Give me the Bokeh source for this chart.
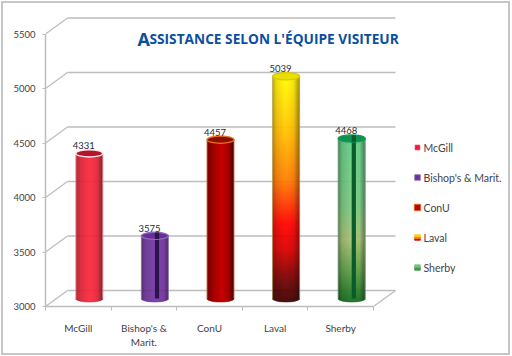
from bokeh.plotting import figure
from bokeh.models import Range1d, FixedTicker, LinearAxis
from bokeh.core.properties import value
from bokeh.embed import file_html
from bokeh.resources import INLINE
import numpy as np

categories = ["McGill", "Bishop's & Marit.", "ConU", "Laval", "Sherby"]
axis_labels = ["McGill", "Bishop's &\nMarit.", "ConU", "Laval", "Sherby"]
attendance = [4331, 3575, 4457, 5039, 4468]
y_ticks = [3000, 3500, 4000, 4500, 5000, 5500]
title_initial = "A"
title_rest = "SSISTANCE SELON L'ÉQUIPE VISITEUR"

FONT = "Lato"
TXT = "#3f3f4a"
GRID = "#bdbdbd"
CAT_W = 65.6                # px per category
PX_X = 1 / CAT_W            # data units per px
PX_Y = 2500 / 272.5
DX, DY = 22 * PX_X, 16 * PX_Y    # chart depth
R_X, R_Y = 13.5 * PX_X, 3.6 * PX_Y

W, H = 510, 354
OFF = 3                     # host margin + CSS border
LEFT, TOP, RIGHT, BOTTOM = 45, 9, 505, 306   # frame edges on the page
p = figure(width=W, height=H, output_backend="svg", toolbar_location=None,
           x_range=Range1d(0, (RIGHT - LEFT) * PX_X),
           y_range=Range1d(3000, 3000 + (BOTTOM - TOP) * PX_Y),
           frame_width=RIGHT - LEFT, frame_height=BOTTOM - TOP,
           min_border_left=LEFT - OFF, min_border_right=3,
           min_border_top=TOP - OFF, min_border_bottom=47,
           x_axis_type=None, y_axis_type=None,
           margin=(1, 0, 0, 1), outline_line_color=None,
           background_fill_color="white", border_fill_color="white",
           styles={"border": "2px solid #c6c6c6", "box-sizing": "border-box"})
p.grid.visible = False

# axes
yaxis = LinearAxis(ticker=FixedTicker(ticks=y_ticks), bounds=(3000, 5500))
yaxis.axis_line_color = GRID
yaxis.axis_line_width = 1.5
yaxis.major_tick_line_color = GRID
yaxis.major_tick_in = 0
yaxis.major_tick_out = 3
yaxis.minor_tick_line_color = None
yaxis.major_label_standoff = 7
yaxis.major_label_text_font = FONT
yaxis.major_label_text_font_size = "9.5px"
yaxis.major_label_text_color = TXT
p.add_layout(yaxis, "left")

centers = [i + 0.5 for i in range(len(categories))]
xaxis = LinearAxis(ticker=FixedTicker(ticks=centers,
                                      minor_ticks=list(range(len(categories) + 1))),
                   bounds=(0, len(categories)))
xaxis.major_label_overrides = {c: l for c, l in zip(centers, axis_labels)}
xaxis.axis_line_color = GRID
xaxis.axis_line_width = 1.5
xaxis.major_tick_line_color = None
xaxis.major_tick_in = 0
xaxis.major_tick_out = 0
xaxis.minor_tick_line_color = GRID
xaxis.minor_tick_in = 0
xaxis.minor_tick_out = 4
xaxis.major_label_standoff = 11
xaxis.major_label_text_font = FONT
xaxis.major_label_text_font_size = "10px"
xaxis.major_label_text_color = TXT
p.add_layout(xaxis, "below")

# 3-D walls
n = len(categories)
p.segment(x0=[DX] * len(y_ticks), y0=[v + DY for v in y_ticks],
          x1=[n + DX] * len(y_ticks), y1=[v + DY for v in y_ticks],
          line_color=GRID, line_width=1.5)
p.segment(x0=[0] * len(y_ticks), y0=y_ticks, x1=[DX] * len(y_ticks),
          y1=[v + DY for v in y_ticks], line_color=GRID, line_width=1.2)
p.segment(x0=[n], y0=[3000], x1=[n + DX], y1=[3000 + DY], line_color=GRID, line_width=1.2)


def lerp(stops, t):
    xs = [s[0] for s in stops]
    return [float(np.interp(t, xs, [s[1][k] for s in stops])) for k in range(3)]


def hexc(c):
    return "#%02x%02x%02x" % tuple(int(max(0, min(255, v))) for v in c)


# (height in px above base -> colour); horizontal shade factor by u
styles_ = [
    dict(v=[(0, (240, 40, 60)), (1, (240, 40, 60))],
         h=[(-1, .72), (-.6, .92), (.1, 1.06), (.6, .95), (1, .55)],
         top="#b5142c", rim="#fbe6e8", edge="#f7c9cf", slot=None),
    dict(v=[(0, (112, 50, 160)), (1, (112, 50, 160))],
         h=[(-1, .6), (-.7, .9), (.1, 1.05), (.7, .95), (1, .55)],
         top="#6a2c9c", rim="#8f6db5", edge="#a58cc4", slot="#2c1548"),
    dict(v=[(0, (192, 0, 0)), (1, (192, 0, 0))],
         h=[(-1, .6), (-.5, .85), (.1, 1.05), (.6, .85), (1, .4)],
         top="#8e0c00", rim="#e8701a", edge="#f0a060", slot=None),
    dict(v=[(0, (55, 0, 0)), (.1, (105, 5, 5)), (.25, (215, 0, 0)), (.36, (255, 5, 0)),
            (.55, (255, 125, 0)), (.78, (255, 195, 0)), (1, (255, 245, 0))],
         h=[(-1, .68), (-.7, .92), (0, 1.05), (.6, .95), (1, .6)],
         top="#e9e000", rim="#d8c800", edge="#b8a860", slot=None),
    dict(v=[(0, (15, 105, 30)), (.2, (90, 155, 70)), (.4, (165, 192, 115)),
            (.6, (122, 200, 130)), (1, (100, 205, 135))],
         h=[(-1, .6), (-.7, .9), (-.1, 1.02), (.6, 1.0), (1, .6)],
         top="#12904f", rim="#0c9a58", edge="#7fae88", slot="#0a5a2c"),
]

for i, (val, st) in enumerate(zip(attendance, styles_)):
    cx = i + 0.5 + DX / 2
    base = 3000 + DY / 2
    top = val + DY / 2
    us = np.linspace(-1, 1, 28)
    span = top - base
    vert_steps = 1 if st["v"][0][1] == st["v"][-1][1] else int(span / PX_Y / 1.5)
    l, r, b, t, col = [], [], [], [], []
    for u0, u1 in zip(us[:-1], us[1:]):
        um = (u0 + u1) / 2
        fac = float(np.interp(um, [s[0] for s in st["h"]], [s[1] for s in st["h"]]))
        bot = base - R_Y * np.sqrt(1 - um ** 2)
        edges = np.linspace(bot, top, vert_steps + 1)
        for e0, e1 in zip(edges[:-1], edges[1:]):
            frac = ((e0 + e1) / 2 - 3000) / (span + DY / 2)
            c = lerp(st["v"], frac)
            l.append(cx + u0 * R_X)
            r.append(cx + u1 * R_X)
            b.append(e0)
            t.append(e1)
            col.append(hexc([v * fac for v in c]))
    p.quad(left=l, right=r, bottom=b, top=t, fill_color=col, line_color=col, line_width=0.4)
    if st["slot"]:
        p.quad(left=[cx], right=[cx + 4.2 * PX_X], bottom=[base], top=[top],
               fill_color=st["slot"], line_color=None)
    # side edges and top
    p.segment(x0=[cx - R_X, cx + R_X], y0=[base, base], x1=[cx - R_X, cx + R_X], y1=[top, top],
              line_color=st["edge"], line_width=0.8, line_alpha=0.8)
    p.ellipse(x=[cx], y=[top], width=[2 * R_X], height=[2 * R_Y],
              fill_color=st["top"], line_color=st["rim"], line_width=1.3)
    if st["slot"]:
        p.quad(left=[cx], right=[cx + 4.2 * PX_X], bottom=[top - R_Y * 0.9], top=[top + R_Y * 0.9],
               fill_color=st["slot"], line_color=None)

# value labels
p.text(x=[i + 0.5 + DX / 2 - 5.5 * PX_X for i in range(n)],
       y=[v + DY / 2 + 7.5 * PX_Y for v in attendance],
       text=[str(v) for v in attendance],
       text_font=value(FONT), text_font_size="9.5px", text_color="#2a2a35",
       text_align="center", text_baseline="middle")

# title
tx = (137 - LEFT) * PX_X
ty = 3000 + (306 - 38) * PX_Y
p.text(x=[tx], y=[ty], text=[title_initial], text_font=value("Open Sans"),
       text_font_size="18px", text_font_style="bold", text_color="#0b4f9e",
       text_align="left", text_baseline="middle")
p.text(x=[tx + 12 * PX_X], y=[ty], text=[title_rest], text_font=value("Open Sans"),
       text_font_size="13.7px", text_font_style="bold", text_color="#0b4f9e",
       text_align="left", text_baseline="middle")

# legend
swatches = [
    ([(0, "#f01c3c")], 2.3, None),
    ([(0, "#7030a0")], 2.8, "#8f6db5"),
    ([(0, "#c00000")], 3.2, "#e8701a"),
    ([(0, "#d80a0a"), (1 / 3, "#ff8000"), (2 / 3, "#ffd000")], 2.8, None),
    ([(0, "#3f9a45"), (.5, "#6cb46a"), (.75, "#7cc88a")], 2.8, None),
]
for i, (name, (cols, half, edge)) in enumerate(zip(categories, swatches)):
    sy = 3000 + (306 - (147 + 30 * i)) * PX_Y
    sx = (417 - LEFT) * PX_X
    for j, (f, c) in enumerate(cols):
        f1 = cols[j + 1][0] if j + 1 < len(cols) else 1
        p.quad(left=[sx - half * PX_X], right=[sx + half * PX_X],
               bottom=[sy - half * PX_Y + 2 * half * PX_Y * f],
               top=[sy - half * PX_Y + 2 * half * PX_Y * f1],
               fill_color=c, line_color=edge if edge else c, line_width=0.8)
    p.text(x=[(423 - LEFT) * PX_X], y=[sy], text=[name], text_font=value(FONT),
           text_font_size="10.5px", text_color=TXT, text_align="left", text_baseline="middle")

open("out.html", "w").write(file_html(p, INLINE))
